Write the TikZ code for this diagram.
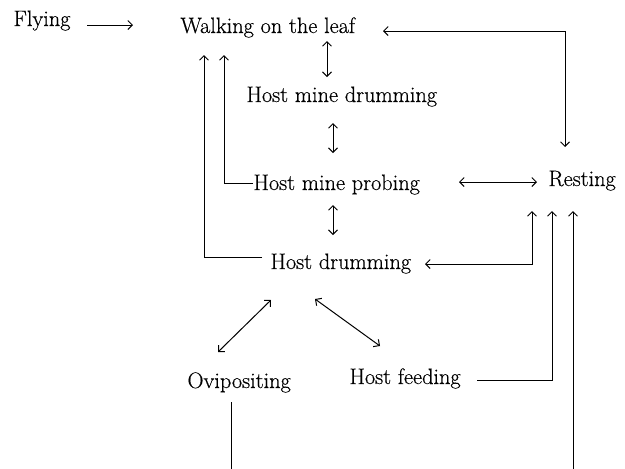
\documentclass[tikz,border=0pt]{standalone}
\usepackage{fontspec}
\setmainfont{Latin Modern Roman}[FakeBold=0.4]
\usepackage{tikz}
\usetikzlibrary{calc, positioning, arrows.meta}

\begin{document}
\begin{tikzpicture}[
  x=1pt, y=-1pt,
  every node/.style={inner sep=0pt, anchor=base west, font=\fontsize{22.3}{26}\selectfont},
  >={Straight Barb[length=4.5pt, width=9pt]},
  line width=1pt
]
  \useasboundingbox (0,0) rectangle (625,469);

  \node (fly)  at (13,26)   {Flying};
  \node (walk) at (180,33)  {Walking on the leaf};
  \node (hmd)  at (246,102) {Host mine drumming};
  \node (hmp)  at (253,190) {Host mine probing};
  \node (rest) at (548,186) {Resting};
  \node (hd)   at (270,269) {Host drumming};
  \node (hf)   at (349,384) {Host feeding};
  \node (ovi)  at (187,388) {Ovipositing};

  \draw[->] ($(fly.base west)+(74,-1)$) -- ($(walk.base west)+(-47,-8)$);
  \draw[<->] ($(walk.base west)+(203,-2)$) -| ($(rest.base west)+(17,-39)$);
  \draw[<->] ($(walk.base west)+(147,8)$) -- ($(hmd.base west)+(81,-25)$);
  \draw[<->] ($(hmd.base west)+(87,21)$) -- ($(hmp.base west)+(80,-37)$);
  \draw[<->] ($(hmp.base west)+(80,15)$) -- ($(hd.base west)+(63,-34)$);
  \draw[<->] ($(hmp.base west)+(206,-8)$) -- ($(rest.base west)+(-11,-4)$);
  \draw[->] ($(hmp.base west)+(0,-7)$) -| ($(walk.base west)+(44,22)$);
  \draw[->] ($(hd.base west)+(-8,-12)$) -| ($(walk.base west)+(24,22)$);
  \draw[<->] ($(hd.base west)+(155,-5)$) -| ($(rest.base west)+(-16,25)$);
  \draw[->] ($(hf.base west)+(128,-4)$) -| ($(rest.base west)+(4,25)$);
  \draw[->] ($(ovi.base west)+(44,14)$) -- ++(0,67) -| ($(rest.base west)+(25,25)$);
  \draw[<->] ($(hd.base west)+(1,31)$) -- ($(ovi.base west)+(31,-36)$);
  \draw[<->] ($(hd.base west)+(45,30)$) -- ($(hf.base west)+(31,-38)$);
\end{tikzpicture}
\end{document}
